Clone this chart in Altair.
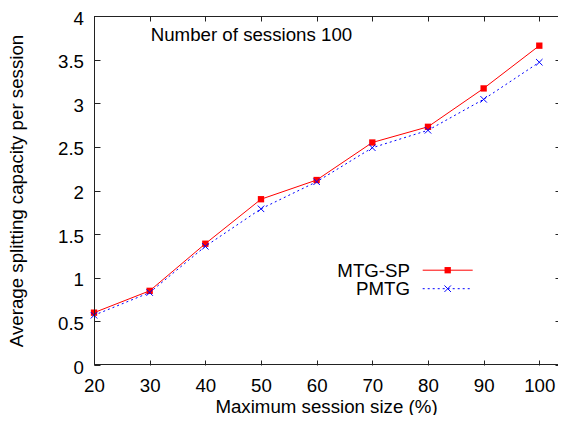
import altair as alt
import pandas as pd

# ---- data ----
sizes = [20, 30, 40, 50, 60, 70, 80, 90, 100]
mtg_sp = [0.60, 0.85, 1.39, 1.90, 2.12, 2.55, 2.73, 3.17, 3.66]
pmtg = [0.57, 0.83, 1.36, 1.79, 2.10, 2.49, 2.69, 3.045, 3.47]
series_names = ["MTG-SP", "PMTG"]
x_ticks = [20, 30, 40, 50, 60, 70, 80, 90, 100]
y_ticks = [0, 0.5, 1, 1.5, 2, 2.5, 3, 3.5, 4]
x_title = "Maximum session size (%)"
y_title = "Average splitting capacity per session"
annotation = "Number of sessions 100"

FONT = "Liberation Sans"
FS = 18.7
RED = "#ff0000"
BLUE = "#0000ff"
X_DOMAIN = [20, 103.36]
Y_DOMAIN = [0, 4]
CROSS = "M-1,-1L1,1M-1,1L1,-1"

df = pd.DataFrame({
    "size": sizes * 2,
    "value": mtg_sp + pmtg,
    "series": [series_names[0]] * len(sizes) + [series_names[1]] * len(sizes),
})

xs = alt.Scale(domain=X_DOMAIN, nice=False, zero=False)
ys = alt.Scale(domain=Y_DOMAIN, nice=False, zero=False)

x_main = alt.X(
    "size:Q", scale=xs,
    axis=alt.Axis(values=x_ticks, format="d", offset=-5, tickSize=5, labelPadding=11,
                  labelFlush=False, labelOverlap=False, title=x_title,
                  titleX=232, titleY=52, titleBaseline="alphabetic", titleAlign="center"),
)
y_main = alt.Y(
    "value:Q", scale=ys,
    axis=alt.Axis(values=y_ticks, format="~g", offset=-6, tickSize=6, labelPadding=10.5,
                  labelOffset=2, labelOverlap=False, title=y_title,
                  titleX=-77.3, titleY=174.5, titleAngle=270,
                  titleBaseline="alphabetic", titleAlign="center"),
)
xq = alt.X("size:Q", scale=xs)
yq = alt.Y("value:Q", scale=ys)

red_df = df[df.series == series_names[0]]
blue_df = df[df.series == series_names[1]]

red_line = alt.Chart(red_df).mark_line(color=RED, strokeWidth=1).encode(x=x_main, y=y_main)
blue_line = alt.Chart(blue_df).mark_line(color=BLUE, strokeWidth=1, strokeDash=[2, 3]).encode(x=xq, y=yq)
red_pts = alt.Chart(red_df).mark_square(color=RED, size=40, opacity=1).encode(x=xq, y=yq)
blue_pts = alt.Chart(blue_df).mark_point(shape=CROSS, filled=False, color=BLUE, size=42,
                                         strokeWidth=1, opacity=1).encode(x=xq, y=yq)

# frame: top, left and bottom borders (right border lies beyond the crop)
frame_df = pd.DataFrame({"k": [0]})
top_line = alt.Chart(frame_df).mark_rule(color="#222", strokeWidth=1, yOffset=0.5).encode(
    y=alt.datum(Y_DOMAIN[1]))
bottom_line = alt.Chart(frame_df).mark_rule(color="#222", strokeWidth=1, yOffset=-0.5).encode(
    y=alt.datum(Y_DOMAIN[0]))
left_line = alt.Chart(frame_df).mark_rule(color="#222", strokeWidth=1, xOffset=0.5).encode(
    x=alt.datum(X_DOMAIN[0]))

# annotation text
note = alt.Chart(pd.DataFrame({"t": [annotation]})).mark_text(
    align="left", baseline="alphabetic", font=FONT, fontSize=FS, color="black"
).encode(x=alt.value(56.7), y=alt.value(25), text="t:N")

# manual gnuplot-style legend
leg_layers = []
leg_y = [254.2, 272.7]
for i, name in enumerate(series_names):
    ldf = pd.DataFrame({"name": [name]})
    col = RED if i == 0 else BLUE
    txt = alt.Chart(ldf).mark_text(align="right", baseline="middle", font=FONT,
                                   fontSize=FS, color="black").encode(
        x=alt.value(316), y=alt.value(leg_y[i] + 0.7), text="name:N")
    if i == 0:
        rule = alt.Chart(ldf).mark_rule(color=col, strokeWidth=1).encode(
            x=alt.value(328.7), x2=alt.value(378.7), y=alt.value(leg_y[i]))
        mk = alt.Chart(ldf).mark_square(color=col, size=40, opacity=1).encode(
            x=alt.value(353.7), y=alt.value(leg_y[i]))
    else:
        rule = alt.Chart(ldf).mark_rule(color=col, strokeWidth=1, strokeDash=[2, 3]).encode(
            x=alt.value(328.7), x2=alt.value(378.7), y=alt.value(leg_y[i]))
        mk = alt.Chart(ldf).mark_point(shape=CROSS, filled=False, color=col, size=42,
                                       strokeWidth=1, opacity=1).encode(
            x=alt.value(353.7), y=alt.value(leg_y[i]))
    leg_layers += [rule, mk, txt]

inner = alt.layer(red_line, blue_line, red_pts, blue_pts, top_line, bottom_line, left_line,
                  note, *leg_layers)

# mirrored inward ticks on top and right
mirror = alt.Chart(df).mark_point(opacity=0).encode(
    x=alt.X("size:Q", scale=xs,
            axis=alt.Axis(orient="top", values=x_ticks, labels=False, offset=-5,
                          tickSize=5, title=None)),
    y=alt.Y("value:Q", scale=ys,
            axis=alt.Axis(orient="right", values=y_ticks, labels=False, offset=-3,
                          tickSize=3, title=None)),
)

chart = alt.layer(inner, mirror).resolve_scale(
    x="independent", y="independent"
).properties(
    width=464, height=349,
    padding={"left": 86, "top": 8, "right": 0, "bottom": 50},
    autosize=alt.AutoSizeParams(type="none"),
    background="white",
).configure_view(
    stroke=None
).configure_axis(
    grid=False, domain=False, tickColor="#222", tickWidth=1,
    labelFont=FONT, labelFontSize=FS, labelColor="black",
    titleFont=FONT, titleFontSize=FS, titleFontWeight="normal", titleColor="black",
)

chart.save("out.html", embed_options={"renderer": "svg", "actions": False})
